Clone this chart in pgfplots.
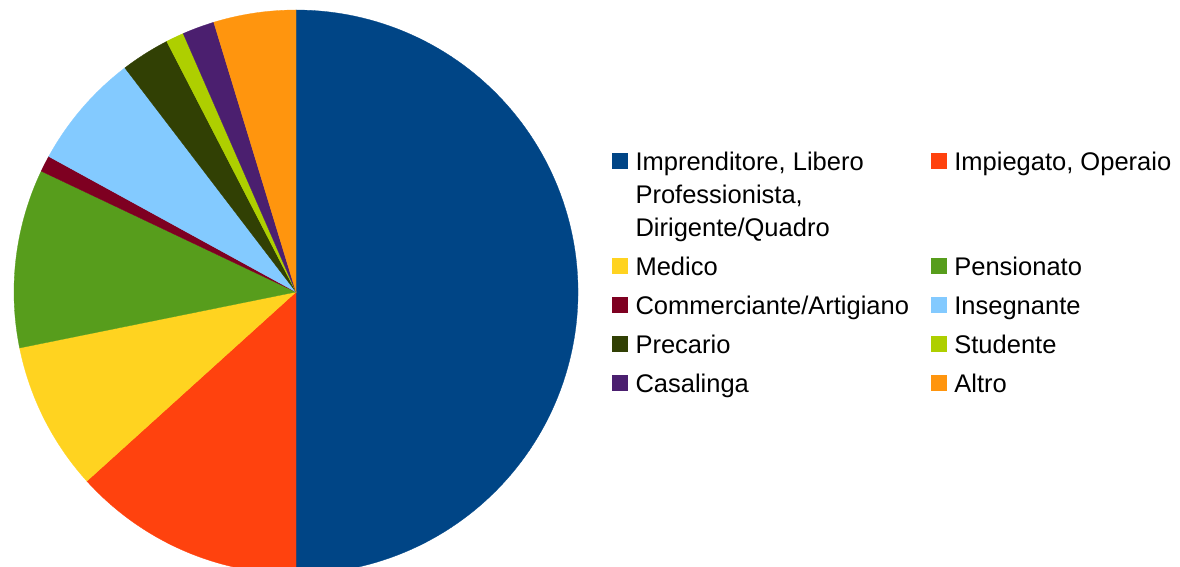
\documentclass[border=0pt]{standalone}
\usepackage{fontspec}
\setmainfont{Liberation Sans}
\usepackage{pgfplots}
\pgfplotsset{compat=1.18}

% LibreOffice default chart palette
\definecolor{c1}{HTML}{004586}
\definecolor{c2}{HTML}{FF420E}
\definecolor{c3}{HTML}{FFD320}
\definecolor{c4}{HTML}{579D1C}
\definecolor{c5}{HTML}{7E0021}
\definecolor{c6}{HTML}{83CAFF}
\definecolor{c7}{HTML}{314004}
\definecolor{c8}{HTML}{AECF00}
\definecolor{c9}{HTML}{4B1F6F}
\definecolor{c10}{HTML}{FF950E}

\pgfplotsset{
  slice/.style={fill=#1, draw=#1, line width=0.3pt, samples=120,
    area legend,
    legend image code/.code={\fill[#1] (0pt,2.5pt) rectangle (15pt,17.5pt);}},
}

\begin{document}
\begin{tikzpicture}
\useasboundingbox (0,0) rectangle (1180pt,567pt);
\begin{axis}[
    at={(0,0)}, anchor=south west,
    scale only axis,
    width=1180pt, height=567pt,
    xmin=-296, xmax=884,
    ymin=-275, ymax=292,
    hide axis,
    clip=true,
    legend columns=2,
    legend style={
      draw=none, fill=none,
      at={(axis cs:316,147)}, anchor=north west,
      inner sep=0pt, row sep=15pt,
      font=\fontsize{25.5}{33}\selectfont,
      cells={anchor=base west, inner sep=0pt},
      /tikz/every odd column/.append style={column sep=6pt},
      /tikz/every even column/.append style={column sep=20pt},
    },
  ]
  % shares in percent, drawn clockwise from 12 o'clock;
  % domain = cumulative share (0..100)
  % 50.00, 13.30, 8.52, 10.23, 0.93, 6.64, 2.80, 1.03, 1.84, 4.71
  \addplot[slice=c1, domain=0:50]        ({282*sin(3.6*x)},{282*cos(3.6*x)}) -- (axis cs:0,0) -- cycle;
  \addlegendentry[text depth=68pt]{\begin{tabular}[t]{@{}l@{}}Imprenditore, Libero\\Professionista,\\Dirigente/Quadro\end{tabular}}
  \addplot[slice=c2, domain=50:63.30]    ({282*sin(3.6*x)},{282*cos(3.6*x)}) -- (axis cs:0,0) -- cycle;
  \addlegendentry{Impiegato, Operaio}
  \addplot[slice=c3, domain=63.30:71.82] ({282*sin(3.6*x)},{282*cos(3.6*x)}) -- (axis cs:0,0) -- cycle;
  \addlegendentry{Medico}
  \addplot[slice=c4, domain=71.82:82.05] ({282*sin(3.6*x)},{282*cos(3.6*x)}) -- (axis cs:0,0) -- cycle;
  \addlegendentry{Pensionato}
  \addplot[slice=c5, domain=82.05:82.98] ({282*sin(3.6*x)},{282*cos(3.6*x)}) -- (axis cs:0,0) -- cycle;
  \addlegendentry{Commerciante/Artigiano}
  \addplot[slice=c6, domain=82.98:89.62] ({282*sin(3.6*x)},{282*cos(3.6*x)}) -- (axis cs:0,0) -- cycle;
  \addlegendentry{Insegnante}
  \addplot[slice=c7, domain=89.62:92.42] ({282*sin(3.6*x)},{282*cos(3.6*x)}) -- (axis cs:0,0) -- cycle;
  \addlegendentry{Precario}
  \addplot[slice=c8, domain=92.42:93.45] ({282*sin(3.6*x)},{282*cos(3.6*x)}) -- (axis cs:0,0) -- cycle;
  \addlegendentry{Studente}
  \addplot[slice=c9, domain=93.45:95.29] ({282*sin(3.6*x)},{282*cos(3.6*x)}) -- (axis cs:0,0) -- cycle;
  \addlegendentry{Casalinga}
  \addplot[slice=c10, domain=95.29:100]  ({282*sin(3.6*x)},{282*cos(3.6*x)}) -- (axis cs:0,0) -- cycle;
  \addlegendentry{Altro}
\end{axis}
\end{tikzpicture}
\end{document}
